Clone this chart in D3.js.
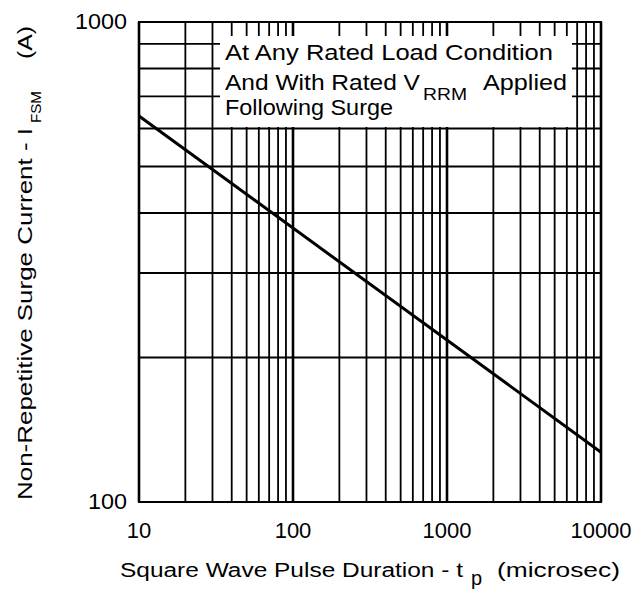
<!DOCTYPE html>
<html>
<head>
<meta charset="utf-8">
<script src="https://cdn.jsdelivr.net/npm/d3@7"></script>
<style>
  body { margin: 0; background: #fff; }
  text { font-family: "Liberation Sans", Arial, sans-serif; fill: #000; }
</style>
</head>
<body>
<div id="chart"></div>
<script>
// surge curve (log-log straight line)
const pulseDuration = [10, 10000];
const surgeCurrent = [637, 127];

const xGrid = [10, 20, 30, 40, 50, 60, 70, 80, 90, 100, 200, 300, 400, 500, 600, 700, 800, 900,
  1000, 2000, 3000, 4000, 5000, 6000, 7000, 8000, 9000, 10000];
const yGrid = [100, 200, 300, 400, 500, 600, 700, 800, 900, 1000];
const xTickLabels = [10, 100, 1000, 10000];
const yTickLabels = [100, 1000];
const noteLines = ["At Any Rated Load Condition", "And With Rated V", "Following Surge"];

const W = 635, H = 595;
const margin = { top: 22, right: 34, bottom: 93, left: 139 };
const width = W - margin.left - margin.right;
const height = H - margin.top - margin.bottom;

const svg = d3.select('#chart').append('svg')
  .attr('width', W)
  .attr('height', H);

const g = svg.append('g')
  .attr('transform', `translate(${margin.left},${margin.top})`);

const x = d3.scaleLog().domain([10, 10000]).range([0, width]);
const y = d3.scaleLog().domain([100, 1000]).range([height, 0]);

// the original lettering is a bit wider than Arial, so stretch it
function stretched(sel, len) {
  return sel.attr('textLength', len).attr('lengthAdjust', 'spacingAndGlyphs');
}

// grid
g.selectAll('.vgrid')
  .data(xGrid)
  .enter()
  .append('line')
  .attr('x1', d => x(d)).attr('x2', d => x(d))
  .attr('y1', 0).attr('y2', height)
  .attr('stroke', '#000')
  .attr('stroke-width', d => xTickLabels.includes(d) ? 2.6 : 1.8);

g.selectAll('.hgrid')
  .data(yGrid)
  .enter()
  .append('line')
  .attr('x1', 0).attr('x2', width)
  .attr('y1', d => y(d)).attr('y2', d => y(d))
  .attr('stroke', '#000')
  .attr('stroke-width', 1.8);

// note box covering the grid (page coords)
svg.append('rect')
  .attr('x', 220).attr('y', 36)
  .attr('width', 352).attr('height', 91)
  .attr('fill', '#fff');

stretched(svg.append('text')
  .attr('x', 225).attr('y', 60)
  .attr('font-size', 22)
  .text(noteLines[0]), 328);

stretched(svg.append('text')
  .attr('x', 225).attr('y', 90)
  .attr('font-size', 22)
  .text(noteLines[1]), 195);
stretched(svg.append('text')
  .attr('x', 423).attr('y', 100)
  .attr('font-size', 16)
  .text('RRM'), 44);
stretched(svg.append('text')
  .attr('x', 483).attr('y', 90)
  .attr('font-size', 22)
  .text('Applied'), 84);

stretched(svg.append('text')
  .attr('x', 225).attr('y', 115)
  .attr('font-size', 22)
  .text(noteLines[2]), 168);

// frame
g.append('rect')
  .attr('width', width).attr('height', height)
  .attr('fill', 'none')
  .attr('stroke', '#000')
  .attr('stroke-width', 2);

// curve
const line = d3.line()
  .x(d => x(d[0]))
  .y(d => y(d[1]));

g.append('path')
  .datum(d3.zip(pulseDuration, surgeCurrent))
  .attr('d', line)
  .attr('fill', 'none')
  .attr('stroke', '#000')
  .attr('stroke-width', 3);

// tick labels
g.selectAll('.xlab')
  .data(xTickLabels)
  .enter()
  .append('text')
  .attr('x', d => x(d))
  .attr('y', height + 36)
  .attr('text-anchor', 'middle')
  .attr('font-size', 22)
  .text(d => d);

g.selectAll('.ylab')
  .data(yTickLabels)
  .enter()
  .append('text')
  .attr('x', -12)
  .attr('y', d => y(d) + 7)
  .attr('text-anchor', 'end')
  .attr('font-size', 22)
  .attr('textLength', d => String(d).length * 13)
  .attr('lengthAdjust', 'spacingAndGlyphs')
  .text(d => d);

// x axis title
stretched(svg.append('text')
  .attr('x', 120).attr('y', 577)
  .attr('font-size', 20)
  .text('Square Wave Pulse Duration - t'), 343);
svg.append('text')
  .attr('x', 471).attr('y', 585)
  .attr('font-size', 20)
  .text('p');
stretched(svg.append('text')
  .attr('x', 497).attr('y', 577)
  .attr('font-size', 20)
  .text('(microsec)'), 123);

// y axis title (rotated, x = -page y)
const yt = svg.append('g').attr('transform', 'rotate(-90)');
stretched(yt.append('text')
  .attr('x', -500).attr('y', 32)
  .attr('font-size', 20)
  .text('Non-Repetitive Surge Current - I'), 372);
stretched(yt.append('text')
  .attr('x', -123).attr('y', 41)
  .attr('font-size', 14)
  .text('FSM'), 32);
stretched(yt.append('text')
  .attr('x', -59).attr('y', 32)
  .attr('font-size', 20)
  .text('(A)'), 33);
</script>
</body>
</html>
